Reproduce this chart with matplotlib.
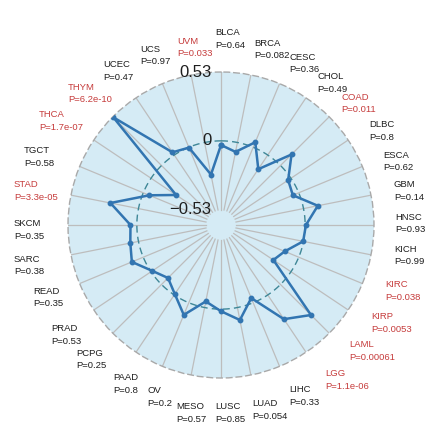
import numpy as np
import matplotlib
matplotlib.use("Agg")
import matplotlib.pyplot as plt

plt.rcParams["font.family"] = ["Liberation Sans", "DejaVu Sans"]

# cancer types, clockwise from the top
cancers = [
    "BLCA", "BRCA", "CESC", "CHOL", "COAD", "DLBC", "ESCA", "GBM",
    "HNSC", "KICH", "KIRC", "KIRP", "LAML", "LGG", "LIHC", "LUAD",
    "LUSC", "MESO", "OV", "PAAD", "PCPG", "PRAD", "READ", "SARC",
    "SKCM", "STAD", "TGCT", "THCA", "THYM", "UCEC", "UCS", "UVM",
]
# correlation per cancer type
corr = [
    -0.032, -0.074, 0.042, -0.131, 0.120, -0.026, -0.049, 0.112,
    0.006, -0.003, -0.117, -0.163, 0.332, 0.224, -0.039, 0.098,
    0.016, -0.048, 0.101, -0.008, -0.071, -0.012, 0.095, 0.064,
    0.049, 0.220, -0.050, -0.232, 0.525, 0.025, -0.003, -0.252,
]
pvals = [
    "0.64", "0.082", "0.36", "0.49", "0.011", "0.8", "0.62", "0.14",
    "0.93", "0.99", "0.038", "0.0053", "0.00061", "1.1e-06", "0.33", "0.054",
    "0.85", "0.57", "0.2", "0.8", "0.25", "0.53", "0.35", "0.38",
    "0.35", "3.3e-05", "0.58", "1.7e-07", "6.2e-10", "0.47", "0.97", "0.033",
]
grid_vals = [-0.53, 0.0, 0.53]

# label block positions (pixels, top-left)
label_xy = [
    (215, 28), (254, 39), (289, 53), (317, 72), (341, 93), (369, 120),
    (383, 151), (394, 180), (395, 213), (394, 245), (385, 280), (371, 312),
    (349, 340), (325, 369), (289, 385), (252, 399), (215, 402), (176, 402),
    (147, 386), (113, 373), (76, 349), (51, 324), (33, 287), (14, 255),
    (14, 219), (14, 180), (24, 146), (39, 110), (68, 83), (103, 60),
    (140, 45), (177, 37),
]

W, H = 425, 423
bg = "#D5EBF5"
line_col = "#3275B1"
red = "#C63C3C"

g_min, g_max = grid_vals[0], grid_vals[-1]
centre = g_min - (g_max - g_min) / 9.0

n = len(cancers)
theta = np.linspace(0, 2 * np.pi, n, endpoint=False)

fig = plt.figure(figsize=(W / 100, H / 100), dpi=100)
cx, cy, rad = 221, 225, 153
ax = fig.add_axes([(cx - rad) / W, (H - cy - rad) / H, 2 * rad / W, 2 * rad / H],
                  projection="polar")
ax.set_theta_zero_location("N")
ax.set_theta_direction(-1)
ax.set_ylim(centre, g_max)
ax.set_facecolor(bg)
ax.grid(False)
ax.set_xticks([])
ax.set_yticks([])
ax.spines["polar"].set_color("#A9A9A9")
ax.spines["polar"].set_linestyle((0, (4, 3)))
ax.spines["polar"].set_linewidth(1.0)

# spokes from the inner ring to the rim
for t in theta:
    ax.plot([t, t], [g_min, g_max], color="#BDBDBD", lw=0.9, zorder=1)

# zero ring
circ = np.linspace(0, 2 * np.pi, 400)
ax.plot(circ, np.full_like(circ, 0.0), color="#3F8797", lw=1.0,
        ls=(0, (5, 3)), zorder=2)

# correlation polygon
t_closed = np.append(theta, theta[0])
v_closed = np.append(corr, corr[0])
ax.plot(t_closed, v_closed, color=line_col, lw=1.8, zorder=3,
        marker="o", markersize=3.2, solid_joinstyle="miter")

# grid value labels
for gv in grid_vals:
    txt = "0" if gv == 0 else f"{gv:.2f}".replace("-", "\u2212")
    ax.annotate(txt, xy=(0, gv), xytext=(-7, 0), textcoords="offset points",
                ha="right", va="center", fontsize=12, color="#1E1E1E",
                annotation_clip=False, zorder=5)

# cancer labels with p-values
for name, p, (x, y) in zip(cancers, pvals, label_xy):
    col = red if float(p) < 0.05 else "#1E1E1E"
    fig.text(x / W, 1 - y / H, f"{name}\nP={p}", ha="left", va="top",
             fontsize=6.8, color=col, linespacing=1.5)

fig.savefig("out.png", dpi=100)
